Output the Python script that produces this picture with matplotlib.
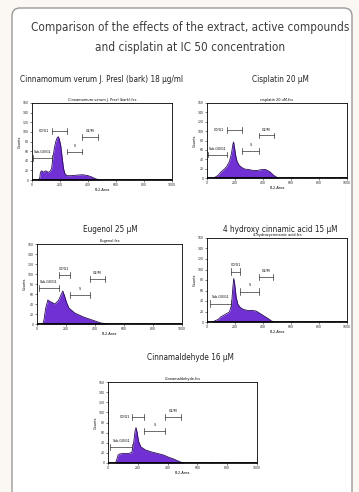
import matplotlib
matplotlib.use("Agg")
import matplotlib.pyplot as plt
from matplotlib.patches import FancyBboxPatch
import numpy as np

plt.rcParams['font.family'] = ['DejaVu Sans Condensed', 'Liberation Sans Narrow', 'DejaVu Sans']
plt.rcParams['font.stretch'] = 'condensed'

W, H = 359, 492

title_lines = ["Comparison of the effects of the extract, active compounds",
               "and cisplatin at IC 50 concentration"]

panel_titles = ["Cinnamomum verum J. Presl (bark) 18 µg/ml",
                "Cisplatin 20 µM",
                "Eugenol 25 µM",
                "4 hydroxy cinnamic acid 15 µM",
                "Cinnamaldehyde 16 µM"]

file_titles = ["Cinnamomum verum J. Presl (bark).fcs",
               "cisplatin 20 uM.fcs",
               "Eugenol.fcs",
               "4-hydroxycinnamic acid.fcs",
               "Cinnamaldehyde.fcs"]

gate_names = ["Sub-G0/G1", "G0/G1", "S", "G2/M"]

# DNA content histograms: channel (FL2-Area) and counts
chan_1 = [0, 40, 55, 60, 70, 80, 90, 100, 115, 130, 140, 150, 160, 170, 180, 188, 195, 205, 215, 225, 235, 250, 280, 320, 360, 400, 430, 450, 470, 490, 1000]
cnt_1 = [0, 0, 3, 16, 19, 16, 18, 19, 16, 18, 24, 48, 67, 80, 88, 90, 85, 72, 48, 24, 13, 9, 9, 10, 11, 9, 6, 3, 1, 0, 0]

chan_2 = [0, 50, 60, 80, 100, 120, 140, 160, 175, 185, 190, 197, 205, 215, 230, 250, 270, 300, 330, 360, 390, 420, 450, 475, 495, 510, 1000]
cnt_2 = [0, 0, 2, 6, 13, 18, 24, 35, 53, 72, 77, 64, 48, 35, 27, 22, 19, 18, 16, 16, 18, 18, 13, 6, 2, 0, 0]

chan_3 = [0, 40, 48, 60, 75, 90, 105, 120, 135, 150, 165, 178, 190, 205, 220, 240, 260, 290, 320, 350, 380, 410, 440, 470, 490, 1000]
cnt_3 = [0, 0, 8, 32, 48, 45, 43, 40, 43, 48, 58, 66, 56, 42, 32, 27, 22, 18, 14, 11, 8, 5, 2, 1, 0, 0]

chan_4 = [0, 40, 55, 80, 100, 120, 140, 160, 175, 185, 191, 198, 208, 220, 240, 260, 290, 320, 350, 380, 410, 440, 460, 480, 1000]
cnt_4 = [0, 0, 2, 5, 10, 13, 16, 19, 32, 67, 83, 72, 48, 34, 27, 24, 22, 22, 21, 16, 11, 6, 2, 0, 0]

chan_5 = [0, 50, 58, 68, 80, 110, 140, 160, 172, 182, 188, 195, 205, 220, 250, 290, 330, 370, 410, 440, 470, 495, 510, 1000]
cnt_5 = [0, 0, 6, 16, 18, 19, 19, 21, 40, 64, 70, 61, 43, 32, 26, 22, 19, 16, 11, 8, 4, 1, 0, 0]

# gate markers: (start channel, end channel, counts level)
gates_1 = [(10, 140, 46), (140, 250, 102), (250, 355, 59), (355, 474, 90)]
gates_2 = [(10, 140, 50), (140, 250, 102), (250, 370, 58), (370, 476, 91)]
gates_3 = [(11, 149, 72), (149, 230, 99), (230, 363, 58), (363, 471, 91)]
gates_4 = [(24, 175, 35), (175, 234, 96), (239, 373, 58), (373, 474, 86)]
gates_5 = [(16, 164, 32), (164, 240, 90), (240, 382, 64), (382, 488, 90)]

# G0/G1 label placed to the left of its bar in some panels
g1_left = [True, True, False, False, True]

# layout in pixels: (left, top, right, bottom), title x-center, title y
boxes = [(32, 103, 172, 180), (207, 103, 347, 178), (37, 244, 182, 324),
         (207, 238, 347, 322), (108, 382, 257, 463)]
title_pos = [(102, 79), (280, 79), (110, 229), (280, 229), (190, 357)]

chans = [chan_1, chan_2, chan_3, chan_4, chan_5]
cnts = [cnt_1, cnt_2, cnt_3, cnt_4, cnt_5]
gates = [gates_1, gates_2, gates_3, gates_4, gates_5]

fig = plt.figure(figsize=(W / 100, H / 100), dpi=100)
fig.patch.set_facecolor('#fbf7f3')

card = FancyBboxPatch((12 / 100, -0.2), (352 - 12) / 100, (492 - 8) / 100 + 0.2,
                      boxstyle="round,pad=0,rounding_size=0.08",
                      transform=fig.dpi_scale_trans, facecolor='white',
                      edgecolor='#9a9a9a', linewidth=1.0, zorder=-10)
fig.patches.append(card)

fig.text(190 / W, 1 - 28 / H, title_lines[0], ha='center', va='center',
         fontsize=8.5, color='#3d3d3d')
fig.text(190 / W, 1 - 47 / H, title_lines[1], ha='center', va='center',
         fontsize=8.5, color='#3d3d3d')

purple = '#7030d4'
edge = '#2a0b58'

for i in range(5):
    l, t, r, b = boxes[i]
    ax = fig.add_axes([l / W, 1 - b / H, (r - l) / W, (b - t) / H])
    ax.set_zorder(2)
    x = np.array(chans[i])
    y = np.array(cnts[i])
    ax.fill_between(x, 0, y, color=purple, linewidth=0, zorder=2)
    ax.plot(x, y, color=edge, linewidth=0.6, zorder=3)
    ax.plot([0, 1000], [0, 0], color='black', linewidth=1.3, zorder=4)
    ax.set_xlim(0, 1000)
    ax.set_ylim(0, 160)
    ax.set_xticks([0, 200, 400, 600, 800, 1000])
    ax.set_xticks(np.arange(0, 1001, 100), minor=True)
    ax.set_yticks(np.arange(0, 161, 20))
    ax.tick_params(labelsize=2.5, length=1.5, width=0.4, pad=1, colors='#222222')
    ax.tick_params(which='minor', length=0.8, width=0.3)
    for s in ax.spines.values():
        s.set_linewidth(0.6)
    ax.set_xlabel("FL2-Area", fontsize=2.8, labelpad=0.5)
    ax.set_ylabel("Counts", fontsize=2.8, labelpad=0.5)
    ax.set_title(file_titles[i], fontsize=2.8, pad=1.5)
    for k, (g0, g1, lev) in enumerate(gates[i]):
        ax.plot([g0, g1], [lev, lev], color='#333333', linewidth=0.5, zorder=5)
        for gx in (g0, g1):
            ax.plot([gx, gx], [lev - 6, lev + 6], color='#333333', linewidth=0.5, zorder=5)
        if k == 1 and g1_left[i]:
            ax.text(g0 - 15, lev, gate_names[k], fontsize=2.6, ha='right', va='center')
        else:
            ax.text((g0 + g1) / 2, lev + 8, gate_names[k], fontsize=2.6, ha='center', va='bottom')
    tx, ty = title_pos[i]
    fig.text(tx / W, 1 - ty / H, panel_titles[i], ha='center', va='center',
             fontsize=5.9, color='#222222')

fig.savefig("out.png", dpi=100, facecolor=fig.get_facecolor())
